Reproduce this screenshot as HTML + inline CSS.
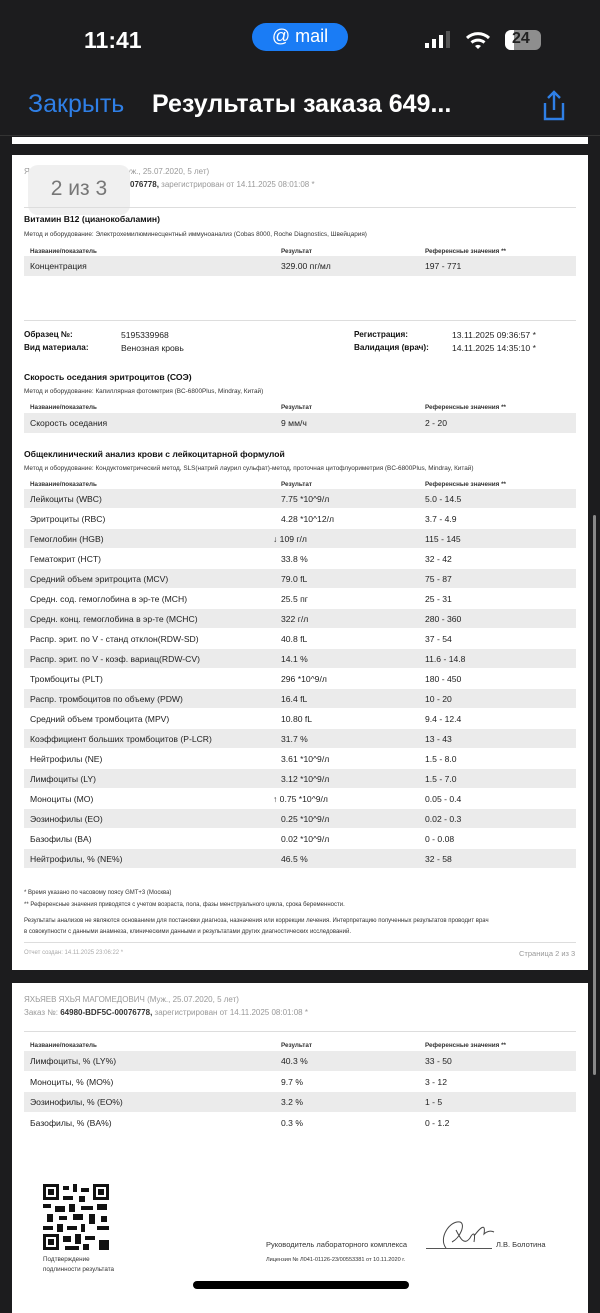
<!DOCTYPE html>
<html><head><meta charset="utf-8"><style>
*{margin:0;padding:0;box-sizing:border-box}
body{width:600px;height:1300px;background:#1c1c1e;position:relative;overflow:hidden;font-family:"Liberation Sans",sans-serif;color:#222}
.a{position:absolute;white-space:nowrap}
.card{position:absolute;left:12px;width:576px;background:#fff}
.g{position:absolute;left:24px;width:552px;height:19px;background:#ebebeb}
.t{position:absolute;font-size:8.6px;color:#222;white-space:nowrap;line-height:10px}
.h{position:absolute;font-size:6.3px;font-weight:bold;color:#333;white-space:nowrap}
.s{position:absolute;font-size:6.4px;color:#333;white-space:nowrap}
.b{position:absolute;font-size:8.6px;font-weight:bold;color:#111;white-space:nowrap}
.hr{position:absolute;left:24px;width:552px;height:1px;background:#ddd}
.r{position:absolute;left:0;width:600px;height:19px}
.r span{position:absolute;top:5px;font-size:8.6px;line-height:10px;color:#222;white-space:nowrap}
</style></head><body>
<div class="a" style="left:84px;top:27px;font-size:23px;font-weight:bold;color:#fff">11:41</div>
<div class="a" style="left:252px;top:23px;width:96px;height:28px;border-radius:14px;background:#1a7cf5;color:#fff;font-size:18px;text-align:center;line-height:27px">@ mail</div>
<div class="a" style="left:425px;top:43px;width:4px;height:5px;background:#fff"></div>
<div class="a" style="left:432px;top:39px;width:4px;height:9px;background:#fff"></div>
<div class="a" style="left:439px;top:35px;width:4px;height:13px;background:#fff"></div>
<div class="a" style="left:446px;top:31px;width:4px;height:17px;background:#555"></div>
<svg class="a" style="left:465px;top:30px" width="26" height="20"><path d="M2 8 A16 16 0 0 1 24 8" fill="none" stroke="#fff" stroke-width="3"/><path d="M6.5 12.5 A10 10 0 0 1 19.5 12.5" fill="none" stroke="#fff" stroke-width="3"/><path d="M10 16 L13 19 L16 16 A5 5 0 0 0 10 16Z" fill="#fff"/></svg>
<div class="a" style="left:505px;top:30px;width:36px;height:20px;border-radius:6px;background:#8e8e8e"></div>
<div class="a" style="left:505px;top:30px;width:9px;height:20px;border-radius:6px 0 0 6px;background:#fff"></div>
<div class="a" style="left:512px;top:30px;font-size:16px;font-weight:bold;color:#222">24</div>
<div class="a" style="left:28px;top:90px;font-size:25px;color:#2f7fe6">Закрыть</div>
<div class="a" style="left:152px;top:90px;font-size:25px;font-weight:bold;color:#fff">Результаты заказа 649...</div>
<svg class="a" style="left:540px;top:90px" width="28" height="32"><path d="M14 2v18M8 8l6-6 6 6M5 13v16h18V13" fill="none" stroke="#2f7fe6" stroke-width="2.4"/></svg>
<div class="a" style="left:0;top:135px;width:600px;height:1px;background:#333"></div>
<div class="card" style="top:137px;height:7px"></div>

<div class="card" style="top:155px;height:815px"></div>
<div class="s" style="left:24px;top:167px;color:#999;font-size:8px">Я&nbsp;&nbsp;&nbsp;&nbsp;&nbsp;&nbsp;&nbsp;&nbsp;&nbsp;&nbsp;&nbsp;&nbsp;&nbsp;&nbsp;&nbsp;&nbsp;&nbsp;&nbsp;&nbsp;&nbsp;&nbsp;&nbsp;&nbsp;&nbsp;&nbsp;&nbsp;&nbsp;&nbsp;&nbsp;&nbsp;&nbsp;ВИЧ (Муж., 25.07.2020, 5 лет)</div>
<div class="s" style="left:130px;top:180px;color:#999;font-size:8px"><b style="color:#333">076778,</b> зарегистрирован от 14.11.2025 08:01:08 *</div>
<div class="a" style="left:28px;top:165px;width:102px;height:50px;border-radius:10px;background:#f0f0f0;color:#777;font-size:21px;text-align:center;line-height:47px">2 из 3</div>
<div class="hr" style="top:207px"></div>
<div class="b" style="left:24px;top:214px">Витамин B12 (цианокобаламин)</div>
<div class="s" style="left:24px;top:231px">Метод и оборудование: Электрохемилюминесцентный иммуноанализ (Cobas 8000, Roche Diagnostics, Швейцария)</div>
<div class="h" style="left:30px;top:248px">Название/показатель</div><div class="h" style="left:281px;top:248px">Результат</div><div class="h" style="left:425px;top:248px">Референсные значения **</div>
<div class="g" style="top:256px;height:20px"></div>
<div class="t" style="left:30px;top:261px">Концентрация</div><div class="t" style="left:281px;top:261px">329.00 пг/мл</div><div class="t" style="left:425px;top:261px">197 - 771</div>
<div class="hr" style="top:320px"></div>
<div class="b" style="left:24px;top:330px;font-size:8.2px">Образец №:</div><div class="t" style="left:121px;top:330px">5195339968</div>
<div class="b" style="left:24px;top:343px;font-size:8.2px">Вид материала:</div><div class="t" style="left:121px;top:343px">Венозная кровь</div>
<div class="b" style="left:354px;top:330px;font-size:8.2px">Регистрация:</div><div class="t" style="left:452px;top:330px">13.11.2025 09:36:57 *</div>
<div class="b" style="left:354px;top:343px;font-size:8.2px">Валидация (врач):</div><div class="t" style="left:452px;top:343px">14.11.2025 14:35:10 *</div>
<div class="b" style="left:24px;top:372px">Скорость оседания эритроцитов (СОЭ)</div>
<div class="s" style="left:24px;top:388px">Метод и оборудование: Капиллярная фотометрия (BC-6800Plus, Mindray, Китай)</div>
<div class="h" style="left:30px;top:404px">Название/показатель</div><div class="h" style="left:281px;top:404px">Результат</div><div class="h" style="left:425px;top:404px">Референсные значения **</div>
<div class="g" style="top:413px;height:20px"></div>
<div class="t" style="left:30px;top:418px">Скорость оседания</div><div class="t" style="left:281px;top:418px">9 мм/ч</div><div class="t" style="left:425px;top:418px">2 - 20</div>
<div class="b" style="left:24px;top:449px">Общеклинический анализ крови с лейкоцитарной формулой</div>
<div class="s" style="left:24px;top:465px">Метод и оборудование: Кондуктометрический метод, SLS(натрий лаурил сульфат)-метод, проточная цитофлуориметрия (BC-6800Plus, Mindray, Китай)</div>
<div class="h" style="left:30px;top:481px">Название/показатель</div><div class="h" style="left:281px;top:481px">Результат</div><div class="h" style="left:425px;top:481px">Референсные значения **</div>

<div class="g" style="top:489px"></div>
<div class="g" style="top:529px"></div>
<div class="g" style="top:569px"></div>
<div class="g" style="top:609px"></div>
<div class="g" style="top:649px"></div>
<div class="g" style="top:689px"></div>
<div class="g" style="top:729px"></div>
<div class="g" style="top:769px"></div>
<div class="g" style="top:809px"></div>
<div class="g" style="top:849px"></div>

<div class="r" style="top:489px"><span style="left:30px">Лейкоциты (WBC)</span><span style="left:281px">7.75 *10^9/л</span><span style="left:425px">5.0 - 14.5</span></div>
<div class="r" style="top:509px"><span style="left:30px">Эритроциты (RBC)</span><span style="left:281px">4.28 *10^12/л</span><span style="left:425px">3.7 - 4.9</span></div>
<div class="r" style="top:529px"><span style="left:30px">Гемоглобин (HGB)</span><span style="left:273px">↓ 109 г/л</span><span style="left:425px">115 - 145</span></div>
<div class="r" style="top:549px"><span style="left:30px">Гематокрит (HCT)</span><span style="left:281px">33.8 %</span><span style="left:425px">32 - 42</span></div>
<div class="r" style="top:569px"><span style="left:30px">Средний объем эритроцита (MCV)</span><span style="left:281px">79.0 fL</span><span style="left:425px">75 - 87</span></div>
<div class="r" style="top:589px"><span style="left:30px">Средн. сод. гемоглобина в эр-те (MCH)</span><span style="left:281px">25.5 пг</span><span style="left:425px">25 - 31</span></div>
<div class="r" style="top:609px"><span style="left:30px">Средн. конц. гемоглобина в эр-те (MCHC)</span><span style="left:281px">322 г/л</span><span style="left:425px">280 - 360</span></div>
<div class="r" style="top:629px"><span style="left:30px">Распр. эрит. по V - станд отклон(RDW-SD)</span><span style="left:281px">40.8 fL</span><span style="left:425px">37 - 54</span></div>
<div class="r" style="top:649px"><span style="left:30px">Распр. эрит. по V - коэф. вариац(RDW-CV)</span><span style="left:281px">14.1 %</span><span style="left:425px">11.6 - 14.8</span></div>
<div class="r" style="top:669px"><span style="left:30px">Тромбоциты (PLT)</span><span style="left:281px">296 *10^9/л</span><span style="left:425px">180 - 450</span></div>
<div class="r" style="top:689px"><span style="left:30px">Распр. тромбоцитов по объему (PDW)</span><span style="left:281px">16.4 fL</span><span style="left:425px">10 - 20</span></div>
<div class="r" style="top:709px"><span style="left:30px">Средний объем тромбоцита (MPV)</span><span style="left:281px">10.80 fL</span><span style="left:425px">9.4 - 12.4</span></div>
<div class="r" style="top:729px"><span style="left:30px">Коэффициент больших тромбоцитов (P-LCR)</span><span style="left:281px">31.7 %</span><span style="left:425px">13 - 43</span></div>
<div class="r" style="top:749px"><span style="left:30px">Нейтрофилы (NE)</span><span style="left:281px">3.61 *10^9/л</span><span style="left:425px">1.5 - 8.0</span></div>
<div class="r" style="top:769px"><span style="left:30px">Лимфоциты (LY)</span><span style="left:281px">3.12 *10^9/л</span><span style="left:425px">1.5 - 7.0</span></div>
<div class="r" style="top:789px"><span style="left:30px">Моноциты (MO)</span><span style="left:273px">↑ 0.75 *10^9/л</span><span style="left:425px">0.05 - 0.4</span></div>
<div class="r" style="top:809px"><span style="left:30px">Эозинофилы (EO)</span><span style="left:281px">0.25 *10^9/л</span><span style="left:425px">0.02 - 0.3</span></div>
<div class="r" style="top:829px"><span style="left:30px">Базофилы (BA)</span><span style="left:281px">0.02 *10^9/л</span><span style="left:425px">0 - 0.08</span></div>
<div class="r" style="top:849px"><span style="left:30px">Нейтрофилы, % (NE%)</span><span style="left:281px">46.5 %</span><span style="left:425px">32 - 58</span></div>

<div class="s" style="left:24px;top:890px;font-size:6px">* Время указано по часовому поясу GMT+3 (Москва)</div>
<div class="s" style="left:24px;top:902px;font-size:6px">** Референсные значения приводятся с учетом возраста, пола, фазы менструального цикла, срока беременности.</div>
<div class="s" style="left:24px;top:918px;font-size:6px">Результаты анализов не являются основанием для постановки диагноза, назначения или коррекции лечения. Интерпретацию полученных результатов проводит врач</div>
<div class="s" style="left:24px;top:929px;font-size:6px">в совокупности с данными анамнеза, клиническими данными и результатами других диагностических исследований.</div>
<div class="hr" style="top:942px"></div>
<div class="s" style="left:24px;top:950px;font-size:6px;color:#aaa">Отчет создан: 14.11.2025 23:06:22 *</div>
<div class="s" style="left:519px;top:949px;font-size:7.5px;color:#999">Страница 2 из 3</div>

<div class="card" style="top:983px;height:330px"></div>
<div class="s" style="left:24px;top:995px;font-size:8px;color:#999">ЯХЬЯЕВ ЯХЬЯ МАГОМЕДОВИЧ (Муж., 25.07.2020, 5 лет)</div>
<div class="s" style="left:24px;top:1008px;font-size:8px;color:#999">Заказ №: <b style="color:#333">64980-BDF5C-00076778,</b> зарегистрирован от 14.11.2025 08:01:08 *</div>
<div class="hr" style="top:1031px"></div>
<div class="h" style="left:30px;top:1042px">Название/показатель</div><div class="h" style="left:281px;top:1042px">Результат</div><div class="h" style="left:425px;top:1042px">Референсные значения **</div>
<div class="g" style="top:1051px;height:20px"></div>
<div class="g" style="top:1092px;height:20px"></div>
<div class="t" style="left:30px;top:1056px">Лимфоциты, % (LY%)</div><div class="t" style="left:281px;top:1056px">40.3 %</div><div class="t" style="left:425px;top:1056px">33 - 50</div>
<div class="t" style="left:30px;top:1077px">Моноциты, % (MO%)</div><div class="t" style="left:281px;top:1077px">9.7 %</div><div class="t" style="left:425px;top:1077px">3 - 12</div>
<div class="t" style="left:30px;top:1097px">Эозинофилы, % (EO%)</div><div class="t" style="left:281px;top:1097px">3.2 %</div><div class="t" style="left:425px;top:1097px">1 - 5</div>
<div class="t" style="left:30px;top:1118px">Базофилы, % (BA%)</div><div class="t" style="left:281px;top:1118px">0.3 %</div><div class="t" style="left:425px;top:1118px">0 - 1.2</div>
<svg class="a" style="left:43px;top:1184px" width="66" height="66">
<rect x="0" y="0" width="66" height="66" fill="#fff"/>
<g fill="#111"><rect x="0" y="0" width="16" height="16"/><rect x="50" y="0" width="16" height="16"/><rect x="0" y="50" width="16" height="16"/></g>
<g fill="#fff"><rect x="3" y="3" width="10" height="10"/><rect x="53" y="3" width="10" height="10"/><rect x="3" y="53" width="10" height="10"/></g>
<g fill="#111"><rect x="5" y="5" width="6" height="6"/><rect x="55" y="5" width="6" height="6"/><rect x="5" y="55" width="6" height="6"/>
<rect x="20" y="2" width="6" height="4"/><rect x="30" y="0" width="4" height="8"/><rect x="38" y="4" width="8" height="4"/><rect x="20" y="12" width="10" height="4"/><rect x="36" y="12" width="6" height="6"/>
<rect x="0" y="20" width="8" height="4"/><rect x="12" y="22" width="10" height="6"/><rect x="26" y="20" width="6" height="8"/><rect x="38" y="22" width="12" height="4"/><rect x="54" y="20" width="10" height="6"/>
<rect x="4" y="30" width="6" height="8"/><rect x="16" y="32" width="8" height="4"/><rect x="30" y="30" width="10" height="6"/><rect x="46" y="30" width="6" height="10"/><rect x="58" y="32" width="6" height="6"/>
<rect x="0" y="42" width="10" height="4"/><rect x="14" y="40" width="6" height="8"/><rect x="24" y="42" width="10" height="4"/><rect x="38" y="40" width="4" height="8"/><rect x="54" y="42" width="12" height="4"/>
<rect x="20" y="52" width="8" height="6"/><rect x="32" y="50" width="6" height="10"/><rect x="42" y="52" width="10" height="4"/><rect x="56" y="56" width="10" height="10"/><rect x="22" y="62" width="14" height="4"/><rect x="40" y="60" width="6" height="6"/></g>
</svg>
<div class="s" style="left:43px;top:1256px;font-size:6.3px">Подтверждение</div>
<div class="s" style="left:43px;top:1266px;font-size:6.3px">подлинности результата</div>
<div class="s" style="left:266px;top:1240px;font-size:7.5px">Руководитель лабораторного комплекса</div>
<div class="a" style="left:426px;top:1248px;width:66px;height:1px;background:#555"></div>
<svg class="a" style="left:436px;top:1216px" width="60" height="36"><path d="M10 32 C2 22 14 4 24 6 C30 8 24 22 16 26 M20 14 C24 22 28 30 34 22 C36 18 40 14 38 26 M38 20 C44 12 50 6 48 18 C50 16 54 14 58 16" fill="none" stroke="#444" stroke-width="1"/></svg>
<div class="s" style="left:496px;top:1240px;font-size:7.5px">Л.В. Болотина</div>
<div class="s" style="left:266px;top:1257px;font-size:5.6px">Лицензия № Л041-01126-23/00553381 от 10.11.2020 г.</div>
<div class="a" style="left:193px;top:1281px;width:216px;height:8px;border-radius:4px;background:#000"></div>
<div class="a" style="left:593px;top:515px;width:3px;height:560px;border-radius:2px;background:#888"></div>
</body></html>
